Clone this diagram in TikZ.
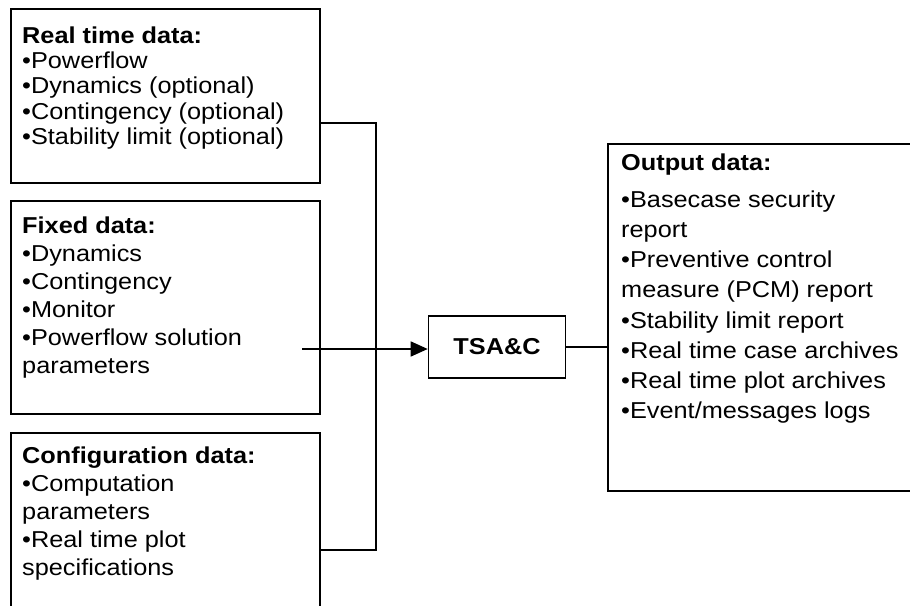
\documentclass[tikz,border=0pt]{standalone}
\usepackage{fontspec}
\setmainfont{Liberation Sans}[FakeStretch=1.1]
\usetikzlibrary{arrows.meta,positioning,calc}

\tikzset{
  databox/.style={draw, line width=1.6pt, inner sep=0pt, anchor=north west},
  datatext/.style={inner sep=0pt, anchor=north west, align=left},
  link/.style={line width=1.6pt}
}

\begin{document}
\begin{tikzpicture}[x=1pt, y=-1pt]
% Canvas
\clip (0,0) rectangle (910,605);
\fill[white] (0,0) rectangle (910,605);

% Input boxes
\node[databox, minimum width=309pt, minimum height=174pt] (rtd) at (10,8) {};
\node[databox, minimum width=309pt, minimum height=213pt] (fix) at (10,200) {};
\node[databox, minimum width=309pt, minimum height=200pt] (cfg) at (10,432) {};

% Output box
\node[databox, minimum width=320pt, minimum height=347pt] (out) at (607,143) {};

% Core block
\node[draw, line width=1.6pt, minimum width=137pt, minimum height=62pt,
  font=\fontsize{23}{26}\selectfont\bfseries] (tsac) at (497,347) {TSA\&C};

% Box texts
\node[datatext, font=\fontsize{23}{25.3}\selectfont] (rtdtxt) at (22,26.5) {%
  \textbf{Real time data:}\\
  •Powerflow\\
  •Dynamics (optional)\\
  •Contingency (optional)\\
  •Stability limit (optional)};
\node[datatext, font=\fontsize{23}{28}\selectfont] (fixtxt) at (22,216.5) {%
  \textbf{Fixed data:}\\
  •Dynamics\\
  •Contingency\\
  •Monitor\\
  •Powerflow solution\\
  parameters};
\node[datatext, font=\fontsize{23}{28}\selectfont] (cfgtxt) at (22,446.5) {%
  \textbf{Configuration data:}\\
  •Computation\\
  parameters\\
  •Real time plot\\
  specifications};
\node[datatext, font=\fontsize{23}{30.2}\selectfont] (outtxt) at (621,153.5) {%
  \textbf{Output data:}\\[6.8pt]
  •Basecase security\\
  report\\
  •Preventive control\\
  measure (PCM) report\\
  •Stability limit report\\
  •Real time case archives\\
  •Real time plot archives\\
  •Event/messages logs};

% Connectors
\coordinate (busT) at (376,123);
\coordinate (busB) at (376,550);
\coordinate (fixout) at (302,349);
\draw[link] ($(rtd.north east)+(0,115)$) -- (busT) -- (busB) -- ($(cfg.north east)+(0,118)$);
\draw[link, -{Triangle[length=17pt, width=15pt]}] (fixout) -- (fixout -| tsac.west);
\draw[link] (tsac.east) -- (tsac.east -| out.west);
\end{tikzpicture}
\end{document}
